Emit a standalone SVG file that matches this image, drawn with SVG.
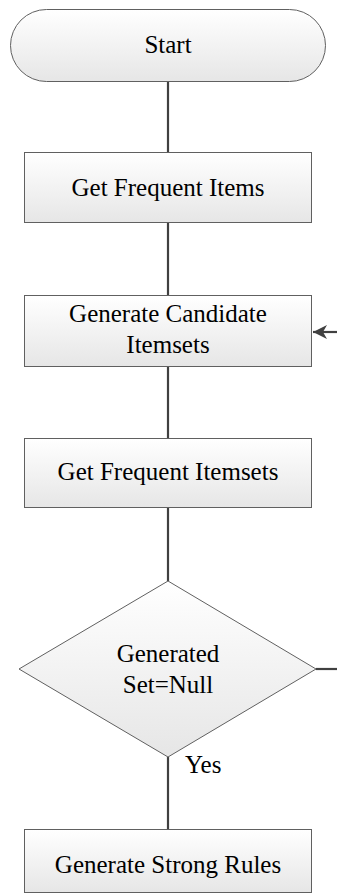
<svg xmlns="http://www.w3.org/2000/svg" width="337" height="895" viewBox="0 0 337 895">
<defs>
<linearGradient id="g" x1="0" y1="0" x2="0" y2="1">
<stop offset="0" stop-color="#ffffff"/>
<stop offset="1" stop-color="#e6e6e6"/>
</linearGradient>
<marker id="ah" markerWidth="18" markerHeight="18" refX="16" refY="9" orient="auto" markerUnits="userSpaceOnUse" viewBox="0 0 18 18">
<path d="M2,2 L16,9 L2,16 L6,9 Z" fill="#404040"/>
</marker>
<style>
.n{fill:url(#g);stroke:#606060;stroke-width:1}
.t{font-family:'Liberation Serif','Times New Roman','DejaVu Serif',serif;font-size:25px;fill:#000;text-anchor:middle}
.c{stroke:#404040;stroke-width:2.2;fill:none}
</style>
</defs>
<rect width="337" height="895" fill="#fff"/>
<g id="connectors">
<line class="c" x1="168" y1="82" x2="168" y2="152"/>
<line class="c" x1="168" y1="223" x2="168" y2="295"/>
<line class="c" x1="168" y1="367" x2="168" y2="438"/>
<line class="c" x1="168" y1="508" x2="168" y2="581"/>
<line class="c" x1="168" y1="757" x2="168" y2="829"/>
<line class="c" x1="316" y1="669" x2="337" y2="669"/>
<line class="c" x1="337" y1="332" x2="313" y2="332" marker-end="url(#ah)"/>
<text class="t" x="185" y="773" text-anchor="start" style="text-anchor:start">Yes</text>
</g>
<g id="start">
<rect class="n" x="10.5" y="9.5" width="315" height="72" rx="36" ry="36"/>
<text class="t" x="168" y="53">Start</text>
</g>
<g id="get-frequent-items">
<rect class="n" x="24.5" y="152.5" width="287" height="70"/>
<text class="t" x="168" y="196">Get Frequent Items</text>
</g>
<g id="generate-candidate">
<rect class="n" x="24.5" y="295.5" width="287" height="71"/>
<text class="t" x="168" y="322">Generate Candidate</text>
<text class="t" x="168" y="353">Itemsets</text>
</g>
<g id="get-frequent-itemsets">
<rect class="n" x="24.5" y="438.5" width="287" height="69"/>
<text class="t" x="168" y="480">Get Frequent Itemsets</text>
</g>
<g id="decision">
<polygon class="n" points="168,581 316,669 168,757 19,669"/>
<text class="t" x="168" y="662">Generated</text>
<text class="t" x="168" y="693">Set=Null</text>
</g>
<g id="generate-strong-rules">
<rect class="n" x="24.5" y="829.5" width="287" height="63"/>
<text class="t" x="168" y="873">Generate Strong Rules</text>
</g>
</svg>
